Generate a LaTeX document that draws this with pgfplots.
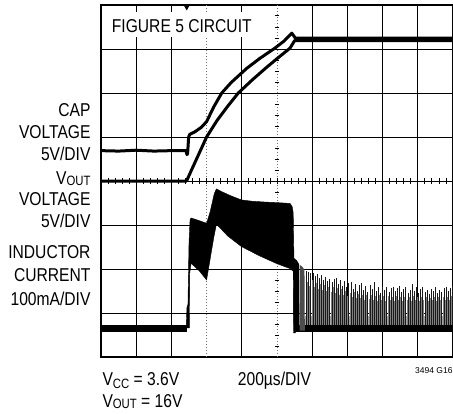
\documentclass[border=0pt]{standalone}
\usepackage{pgfplots}
\pgfplotsset{compat=1.18}
\usepackage{pgfplotstable}
\usepackage{fontspec}
\setmainfont{Liberation Sans}[FakeStretch=0.84]
\newfontfamily\plainfont{Liberation Sans}
\newcommand\lab{\fontsize{18.6bp}{22bp}\selectfont}
\newcommand\sub[2][-2bp]{\raisebox{#1}{\fontsize{13.5bp}{14bp}\selectfont #2}}

% inductor-current switching spikes after the output settles (div units)
\pgfplotstableread{
x h x2 h2
5.84 1.96 5.87 1.70
5.90 1.93 5.93 1.62
5.96 1.90 5.99 1.74
6.02 1.92 6.05 1.60
6.08 1.85 6.11 1.68
6.14 1.88 6.17 1.55
6.20 1.80 6.23 1.66
6.26 1.86 6.29 1.52
6.32 1.76 6.35 1.64
6.38 1.82 6.41 1.50
6.44 1.72 6.47 1.60
6.50 1.78 6.53 1.48
6.56 1.70 6.59 1.58
6.62 1.78 6.65 1.45
6.68 1.80 6.71 1.56
6.74 1.66 6.77 1.42
6.80 1.74 6.83 1.54
6.86 1.62 6.89 1.40
6.92 1.72 6.95 1.50
6.98 1.58 7.01 1.38
7.04 1.68 7.07 1.46
7.10 1.70 7.13 1.36
7.16 1.55 7.19 1.47
7.22 1.66 7.25 1.35
7.28 1.50 7.31 1.44
7.34 1.64 7.37 1.33
7.40 1.68 7.43 1.42
7.46 1.52 7.49 1.30
7.52 1.62 7.55 1.40
7.58 1.48 7.61 1.32
7.64 1.64 7.67 1.41
7.70 1.55 7.73 1.30
7.76 1.70 7.79 1.38
7.82 1.50 7.85 1.28
7.88 1.58 7.91 1.40
7.94 1.46 7.97 1.30
8.00 1.60 8.03 1.38
8.06 1.52 8.09 1.27
8.12 1.58 8.15 1.39
8.18 1.47 8.21 1.29
8.24 1.57 8.27 1.37
8.30 1.60 8.33 1.28
8.36 1.50 8.39 1.38
8.42 1.56 8.45 1.30
8.48 1.62 8.51 1.36
8.54 1.48 8.57 1.27
8.60 1.55 8.63 1.37
8.66 1.58 8.69 1.29
8.72 1.45 8.75 1.36
8.78 1.52 8.81 1.28
8.84 1.66 8.87 1.38
8.90 1.50 8.93 1.30
8.96 1.58 8.99 1.36
9.02 1.46 9.05 1.27
9.08 1.55 9.11 1.37
9.14 1.60 9.17 1.29
9.20 1.48 9.23 1.36
9.26 1.52 9.29 1.28
9.32 1.44 9.35 1.35
9.38 1.55 9.41 1.30
9.44 1.50 9.47 1.37
9.50 1.58 9.53 1.28
9.56 1.46 9.59 1.36
9.62 1.52 9.65 1.30
9.68 1.48 9.71 1.37
9.74 1.56 9.77 1.29
9.80 1.60 9.83 1.36
9.86 1.50 9.89 1.30
9.92 1.57 9.95 1.38
9.98 1.62 9.99 1.30
}\spikes

\begin{document}
\begin{tikzpicture}[x=1bp,y=1bp]
\useasboundingbox (0,0) rectangle (453,413);
\begin{axis}[
  at={(101bp,56bp)}, anchor=south west,
  scale only axis, width=352bp, height=352bp,
  xmin=0, xmax=10, ymin=0, ymax=8,
  xtick={1,2,4,6,7,8,9}, ytick={1,2,3,4,5,6,7},
  xticklabels={}, yticklabels={},
  major tick length=0pt,
  grid=major, major grid style={black, line width=0.9bp},
  axis line style={black, line width=1.2bp},
]
% dotted grid lines
\draw[black!55, line width=0.8bp, dash pattern=on 1.5bp off 1.5bp] (axis cs:3,0) -- (axis cs:3,8);
\draw[black!55, line width=0.8bp, dash pattern=on 1.5bp off 1.5bp] (axis cs:5,0) -- (axis cs:5,8);

% CAP voltage
\addplot[black, line width=3bp, line join=round] coordinates {
(0,4.69)(0.5,4.68)(1.0,4.70)(1.5,4.68)(2.0,4.69)(2.42,4.69)(2.44,4.60)(2.46,4.62)
(2.49,5.00)(2.52,5.06)(2.67,5.12)(2.85,5.22)(3.0,5.35)(3.2,5.68)(3.43,6.00)
(3.7,6.24)(4.14,6.56)(4.5,6.78)(4.94,7.02)(5.2,7.18)(5.42,7.36)(5.52,7.25)(10,7.25)};
% VOUT
\addplot[black, line width=3bp, line join=round] coordinates {
(0,4.0)(2.43,4.0)(2.6,4.3)(2.8,4.65)(3.0,5.0)(3.3,5.38)(3.6,5.7)(3.9,6.0)
(4.3,6.3)(4.7,6.58)(5.0,6.78)(5.37,7.02)(5.5,7.19)(10,7.19)};

% inductor current: baselines
\addplot[black, line width=7bp] coordinates {(0,0.65)(2.45,0.65)};
\addplot[black, line width=7bp] coordinates {(5.47,0.645)(10,0.645)};
% ripple envelope while charging
\addplot[fill=black, draw=black, line width=0.4bp] coordinates {
(2.42,0.66)(2.44,1.12)(2.47,1.20)(2.50,2.6)(2.53,3.12)(2.56,3.16)(2.75,3.11)(3.0,3.04)
(3.1,3.3)(3.22,3.72)(3.28,3.82)(3.45,3.75)(3.7,3.66)(3.99,3.57)(4.3,3.54)(4.7,3.52)
(5.0,3.51)(5.37,3.49)(5.43,3.42)(5.46,3.28)(5.48,2.3)(5.52,0.55)(5.47,0.55)(5.46,1.95)
(5.37,2.01)(5.0,2.12)(4.5,2.3)(3.99,2.51)(3.6,2.75)(3.28,3.02)(3.2,2.7)(3.0,1.75)
(2.8,1.95)(2.56,2.13)(2.52,1.9)(2.51,0.66)} -- cycle;
% dense transition spikes
\addplot[fill=black, draw=none] coordinates {
(5.47,0.6)(5.48,2.25)(5.56,2.2)(5.62,2.12)(5.64,0.6)} -- cycle;
\addplot[fill=black!70, draw=none] coordinates {
(5.64,0.6)(5.64,2.1)(5.72,2.05)(5.78,1.98)(5.79,0.6)} -- cycle;
% low-level dense ripple band
\addplot[fill=black!35, draw=none] coordinates {
(5.8,0.72)(10,0.72)(10,0.93)(5.8,0.93)} -- cycle;
% spikes
\addplot[draw=none, mark=none, error bars/.cd, y dir=minus, y explicit,
  error mark=none, error bar style={draw=black!50, solid, line width=0.6bp}]
  table[x=x2, y=h2, y error expr=\thisrow{h2}-0.72] {\spikes};
\addplot[draw=none, mark=none, error bars/.cd, y dir=minus, y explicit,
  error mark=none, error bar style={draw=black!90, solid, line width=0.7bp}]
  table[x=x, y=h, y error expr=\thisrow{h}-0.72] {\spikes};
\end{axis}

% centre graticule ticks
\foreach \i in {1,...,49} \draw[line width=0.8bp] ({101+\i*7.04},229) -- ({101+\i*7.04},235);
\foreach \j in {1,...,31} \draw[line width=1bp] (275.2,{56+\j*11}) -- (278.8,{56+\j*11});
% trigger marker
\fill (184.2,407) -- (189.2,407) -- (186.7,402.5) -- cycle;

% figure label
\fill[white] (104,376) rectangle (258,401);
\node[anchor=base west, inner sep=0] at (111.7,380.7) {\lab FIGURE 5 CIRCUIT};

% channel labels
\node[anchor=base east, inner sep=0] at (90.7,297) {\lab CAP};
\node[anchor=base east, inner sep=0] at (90.7,274.7) {\lab VOLTAGE};
\node[anchor=base east, inner sep=0] at (90.7,253) {\lab 5V/DIV};
\node[anchor=base east, inner sep=0] at (90.7,229) {\lab V\sub[-1.5bp]{OUT}};
\node[anchor=base east, inner sep=0] at (90.7,208) {\lab VOLTAGE};
\node[anchor=base east, inner sep=0] at (90.7,185.7) {\lab 5V/DIV};
\node[anchor=base east, inner sep=0] at (90.7,154.7) {\lab INDUCTOR};
\node[anchor=base east, inner sep=0] at (90.7,131.3) {\lab CURRENT};
\node[anchor=base east, inner sep=0] at (90.7,108) {\lab 100mA/DIV};

% bottom text
\node[anchor=base west, inner sep=0] at (102.3,28) {\lab V\sub[-3bp]{CC} = 3.6V};
\node[anchor=base west, inner sep=0] at (102.3,5.7) {\lab V\sub[-1.5bp]{OUT} = 16V};
\node[anchor=base west, inner sep=0] at (237.7,28) {\lab 200µs/DIV};
\node[anchor=base west, inner sep=0] at (415,40) {\plainfont\fontsize{8.5bp}{9bp}\selectfont 3494 G16};
\end{tikzpicture}
\end{document}
